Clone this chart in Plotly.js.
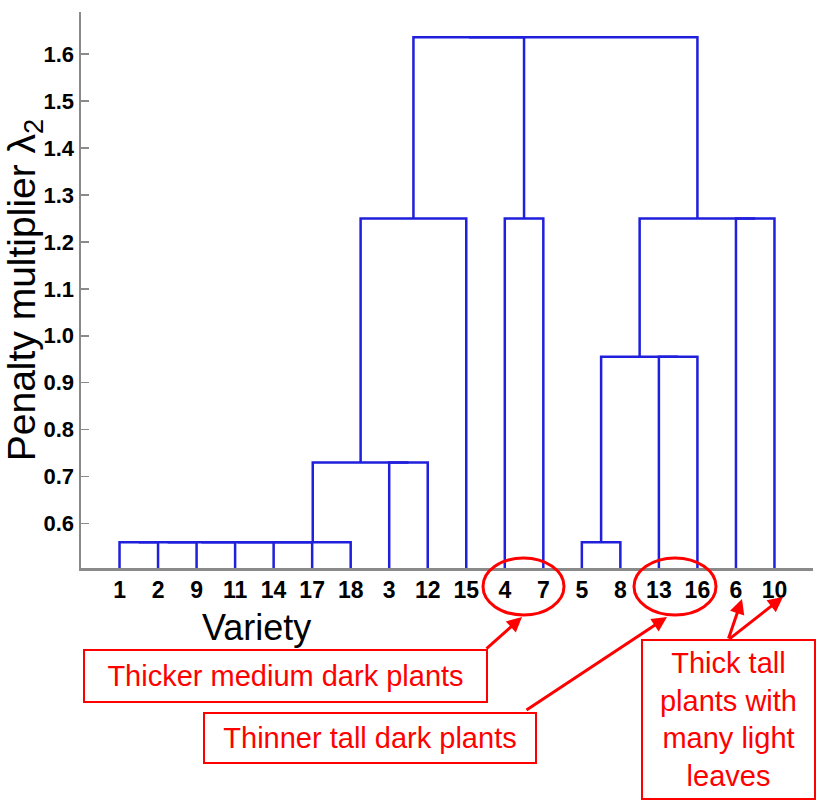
<!DOCTYPE html>
<html>
<head>
<meta charset="utf-8">
<script src="https://cdn.plot.ly/plotly-3.0.1.min.js"></script>
<style>html,body{margin:0;padding:0;background:#fff;}#chart{width:822px;height:802px;}</style>
</head>
<body>
<div id="chart"></div>
<script>
// Leaf order along the x axis (variety numbers)
const leafOrder = [1, 2, 9, 11, 14, 17, 18, 3, 12, 15, 4, 7, 5, 8, 13, 16, 6, 10];
// Linkage: leaves are 1..18, merge k creates node 19+k
const mergeLeft   = [1, 19, 20, 21, 22, 23, 5, 3, 24, 13, 25, 27, 4, 6, 29, 30, 34];
const mergeRight  = [2, 9, 11, 14, 17, 18, 8, 12, 26, 16, 28, 15, 7, 10, 32, 31, 33];
const mergeHeight = [0.56, 0.56, 0.56, 0.56, 0.56, 0.56, 0.56, 0.73, 0.73, 0.955, 0.955, 1.25, 1.25, 1.25, 1.25, 1.636, 1.636];
const yTickVals = [0.6, 0.7, 0.8, 0.9, 1.0, 1.1, 1.2, 1.3, 1.4, 1.5, 1.6];

// Build node coordinates from the linkage
const nodeX = {}, nodeY = {};
leafOrder.forEach((lab, i) => { nodeX[lab] = i + 1; nodeY[lab] = 0; });
const lx = [], ly = [];
mergeLeft.forEach((a, k) => {
  const b = mergeRight[k], h = mergeHeight[k], id = leafOrder.length + 1 + k;
  lx.push(nodeX[a], nodeX[a], nodeX[b], nodeX[b], null);
  ly.push(nodeY[a], h, h, nodeY[b], null);
  nodeX[id] = (nodeX[a] + nodeX[b]) / 2;
  nodeY[id] = h;
});

const M = {l: 81, r: 9, t: 12, b: 234};
const W = 822 - M.l - M.r, H = 802 - M.t - M.b;
const P = (px, py) => ({x: (px - M.l) / W, y: (M.t + H - py) / H});

const FONT = '"Liberation Sans", Arial, Helvetica, sans-serif';
const RED = '#ff0000';

function box(text, x0, x1, y0, y1) {
  const c = P((x0 + x1) / 2, (y0 + y1) / 2);
  return {xref: 'paper', yref: 'paper', x: c.x, y: c.y, xanchor: 'center', yanchor: 'middle',
    text: text, showarrow: false, width: x1 - x0 - 4, height: y1 - y0 - 4,
    bordercolor: RED, borderwidth: 2, borderpad: 0, bgcolor: '#ffffff',
    font: {family: FONT, size: 29, color: RED}, align: 'center'};
}
function arrow(tx, ty, hx, hy) {
  const h = P(hx, hy);
  return {xref: 'paper', yref: 'paper', x: h.x, y: h.y, ax: tx - hx, ay: ty - hy,
    axref: 'pixel', ayref: 'pixel', text: '', showarrow: true, arrowhead: 2,
    arrowsize: 1, arrowwidth: 3, arrowcolor: RED, standoff: 0, startstandoff: 0};
}
function ellipse(x0, x1, y0, y1) {
  const a = P(x0, y1), b = P(x1, y0);
  return {type: 'circle', xref: 'paper', yref: 'paper', x0: a.x, x1: b.x, y0: a.y, y1: b.y,
    line: {color: RED, width: 3}, layer: 'above'};
}

const vPos = P(256, 627);

const data = [{
  type: 'scatter', mode: 'lines', x: lx, y: ly,
  line: {color: '#1f1fdc', width: 2.5}, hoverinfo: 'skip', showlegend: false
}];

const layout = {
  width: 822, height: 802, margin: M,
  paper_bgcolor: '#ffffff', plot_bgcolor: '#ffffff',
  font: {family: FONT, color: '#000'},
  showlegend: false,
  xaxis: {
    range: [0, 19], tickmode: 'array', tickvals: leafOrder.map((_, i) => i + 1),
    ticktext: leafOrder.map(String), ticks: '', showgrid: false, zeroline: false,
    showline: true, linecolor: '#8a8a8a', linewidth: 2.5,
    tickfont: {family: FONT, size: 23, weight: 'bold', color: '#000'}
  },
  yaxis: {
    range: [0.505, 1.69], tickmode: 'array', tickvals: yTickVals,
    ticktext: yTickVals.map(v => v.toFixed(1)), ticks: 'inside', ticklen: 8, tickwidth: 1.5,
    tickcolor: '#8a8a8a', showgrid: false, zeroline: false,
    showline: true, linecolor: '#8a8a8a', linewidth: 2.5,
    tickfont: {family: FONT, size: 22, weight: 'bold', color: '#000'},
    title: {text: 'Penalty multiplier λ<sub>2</sub>', font: {family: FONT, size: 39, color: '#000'}, standoff: 10}
  },
  shapes: [ellipse(483, 564, 558, 615), ellipse(634, 716, 558, 615)],
  annotations: [
    {xref: 'paper', yref: 'paper', x: vPos.x, y: vPos.y, xanchor: 'center', yanchor: 'middle',
     text: 'Variety', showarrow: false, font: {family: FONT, size: 36, color: '#000'}},
    arrow(485, 650, 522, 617),
    arrow(525, 711, 667, 617),
    arrow(728, 640, 742, 599),
    arrow(728, 640, 783, 597),
    box('Thicker medium dark plants', 83, 488, 649, 703),
    box('Thinner tall dark plants', 203, 537, 712, 764),
    box('Thick tall<br>plants with<br>many light<br>leaves', 641, 816, 639, 800)
  ]
};

Plotly.newPlot('chart', data, layout, {staticPlot: true, displayModeBar: false});
</script>
</body>
</html>
